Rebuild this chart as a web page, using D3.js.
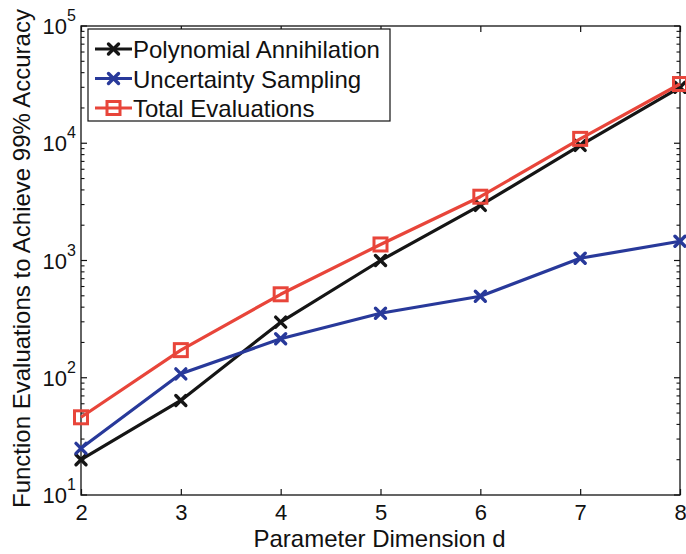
<!DOCTYPE html>
<html>
<head>
<meta charset="utf-8">
<script src="https://cdn.jsdelivr.net/npm/d3@7"></script>
<style>
  html, body { margin: 0; padding: 0; background: #fff; }
  svg { display: block; font-family: "Liberation Sans", Arial, Helvetica, sans-serif; }
</style>
</head>
<body>
<svg id="chart" width="686" height="554"></svg>
<script>
// Parameter dimension d
const dims = [2, 3, 4, 5, 6, 7, 8];
// Function evaluations needed for 99% accuracy
const polyAnnihilation = [20, 64, 298, 1000, 2950, 9600, 30000];
const uncertaintySampling = [25, 108, 215, 355, 496, 1045, 1460];
const totalEvaluations = [46, 172, 515, 1370, 3500, 10900, 32000];

const seriesNames = ["Polynomial Annihilation", "Uncertainty Sampling", "Total Evaluations"];
const yTickExponents = [1, 2, 3, 4, 5];
const xLabel = "Parameter Dimension d";
const yLabel = "Function Evaluations to Achieve 99% Accuracy";

const series = [
  { name: seriesNames[0], values: polyAnnihilation, color: "#151515", marker: "x" },
  { name: seriesNames[1], values: uncertaintySampling, color: "#28399a", marker: "x" },
  { name: seriesNames[2], values: totalEvaluations, color: "#e8453a", marker: "square" }
];

const svg = d3.select("#chart");
const margin = { left: 81, right: 6, top: 26, bottom: 59 };
const W = 686, H = 554;
const x = d3.scaleLinear().domain([2, 8]).range([margin.left, W - margin.right]);
const y = d3.scaleLog().domain([10, 1e5]).range([H - margin.bottom, margin.top]);

const tickLen = 6;
const minorLen = 3.5;

// plot frame
svg.append("rect")
  .attr("x", x(2)).attr("y", y(1e5))
  .attr("width", x(8) - x(2)).attr("height", y(10) - y(1e5))
  .attr("fill", "none").attr("stroke", "#111").attr("stroke-width", 1.3);

// x ticks (inward, top and bottom)
const xAxis = d3.axisBottom(x).tickValues(dims).tickSize(-tickLen).tickPadding(9).tickFormat(d3.format("d"));
const gx = svg.append("g").attr("transform", `translate(0,${y(10)})`).call(xAxis);
gx.select(".domain").remove();
gx.selectAll("line").attr("stroke", "#111").attr("stroke-width", 1.2);
gx.selectAll("text").attr("font-size", 22).attr("fill", "#111");

const gxTop = svg.append("g").attr("transform", `translate(0,${y(1e5)})`)
  .call(d3.axisTop(x).tickValues(dims).tickSize(-tickLen).tickFormat(""));
gxTop.select(".domain").remove();
gxTop.selectAll("line").attr("stroke", "#111").attr("stroke-width", 1.2);

// y ticks: decades with minor ticks, left and right, inward
const minorVals = [];
for (let e = 1; e < 5; e++) for (let m = 2; m <= 9; m++) minorVals.push(m * Math.pow(10, e));
const majorVals = yTickExponents.map(e => Math.pow(10, e));

[[x(2), 1], [x(8), -1]].forEach(([px, dir]) => {
  svg.append("g").selectAll("line.major").data(majorVals).join("line")
    .attr("x1", px).attr("x2", px + dir * tickLen)
    .attr("y1", d => y(d)).attr("y2", d => y(d))
    .attr("stroke", "#111").attr("stroke-width", 1.2);
  svg.append("g").selectAll("line.minor").data(minorVals).join("line")
    .attr("x1", px).attr("x2", px + dir * minorLen)
    .attr("y1", d => y(d)).attr("y2", d => y(d))
    .attr("stroke", "#111").attr("stroke-width", 1.1);
});

// y tick labels 10^n
const yLabels = svg.append("g").selectAll("text").data(yTickExponents).join("text")
  .attr("x", x(2) - 5).attr("y", d => y(Math.pow(10, d)) + 8)
  .attr("text-anchor", "end").attr("font-size", 22).attr("fill", "#111");
yLabels.append("tspan").text("10");
yLabels.append("tspan").attr("dy", -13).attr("font-size", 16).text(d => d);

// axis titles
svg.append("text")
  .attr("x", (x(2) + x(8)) / 2 - 1).attr("y", 547)
  .attr("text-anchor", "middle").attr("font-size", 24).attr("fill", "#111")
  .text(xLabel);
svg.append("text")
  .attr("transform", `translate(30,508) rotate(-90)`)
  .attr("text-anchor", "start").attr("font-size", 24).attr("fill", "#111")
  .text(yLabel);

// lines and markers
const line = d3.line().x(d => x(d[0])).y(d => y(d[1]));

function drawMarker(g, type, color, cx, cy) {
  if (type === "square") {
    const s = 13;
    g.append("rect").attr("x", cx - s / 2).attr("y", cy - s / 2)
      .attr("width", s).attr("height", s)
      .attr("fill", "none").attr("stroke", color).attr("stroke-width", 3);
  } else {
    const s = 5;
    g.append("path")
      .attr("d", `M${cx - s},${cy - s}L${cx + s},${cy + s}M${cx - s},${cy + s}L${cx + s},${cy - s}`)
      .attr("stroke", color).attr("stroke-width", 3.4).attr("stroke-linecap", "round");
  }
}

const plot = svg.append("g");
series.forEach(s => {
  const pts = dims.map((d, i) => [d, s.values[i]]);
  const g = plot.append("g");
  g.append("path").datum(pts).attr("d", line)
    .attr("fill", "none").attr("stroke", s.color).attr("stroke-width", 3.2)
    .attr("stroke-linejoin", "round");
  pts.forEach(p => drawMarker(g, s.marker, s.color, x(p[0]), y(p[1])));
});

// legend
const lg = svg.append("g");
lg.append("rect").attr("x", 88).attr("y", 29).attr("width", 302).attr("height", 92)
  .attr("fill", "#fff").attr("stroke", "#111").attr("stroke-width", 1.2);
series.forEach((s, i) => {
  const cy = 49 + i * 29.5;
  lg.append("line").attr("x1", 95).attr("x2", 132).attr("y1", cy).attr("y2", cy)
    .attr("stroke", s.color).attr("stroke-width", 3.2);
  drawMarker(lg, s.marker, s.color, 113.5, cy);
  lg.append("text").attr("x", 133).attr("y", cy + 9)
    .attr("font-size", 24).attr("fill", "#111").text(s.name);
});
</script>
</body>
</html>
